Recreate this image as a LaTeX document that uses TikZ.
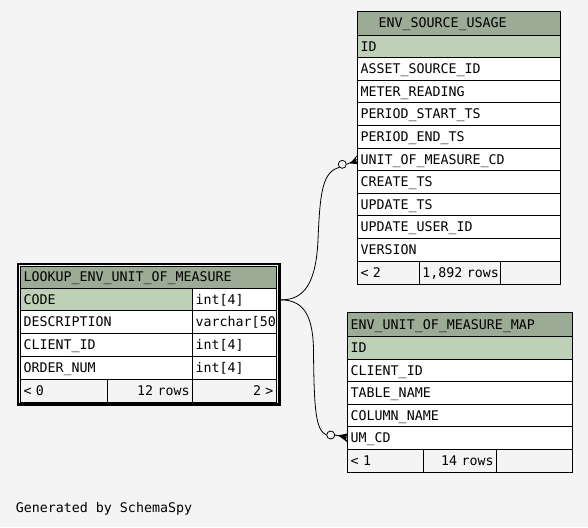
\documentclass[tikz,border=0pt]{standalone}
\usepackage{fontspec}
\newfontfamily\erfont{DejaVu Sans Mono}
\usetikzlibrary{calc}
\definecolor{canvas}{HTML}{F4F4F4}
\definecolor{headbg}{HTML}{9BAB96}
\definecolor{keybg}{HTML}{BED1B8}

% one table cell: name, top-left corner, width, height, extra options, text
\newcommand\tcell[6]{%
  \pgfmathsetmacro\celltw{#3-6}%
  \node[cell, text width=\celltw pt, minimum height=#4pt, #5] (#1) at (#2) {#6};}

\begin{document}
\begin{tikzpicture}[x=1pt,y=-1pt,
  every node/.style={font=\erfont\fontsize{13.3}{14}\selectfont},
  cell/.style={draw=black, line width=0.9pt, fill=white, anchor=north west,
    outer sep=0pt, inner xsep=3pt, inner ysep=0pt, text height=9.5pt,
    text depth=0pt, align=left},
  head/.style={fill=headbg},
  key/.style={fill=keybg},
  foot/.style={fill=canvas},
  fk/.style={line width=0.8pt},
  optional/.style={circle, draw, fill=canvas, line width=0.8pt, inner sep=0pt,
    minimum size=8pt},
]
\fill[canvas] (0,0) rectangle (588,527);
\useasboundingbox (0,0) rectangle (588,527);

% ENV_SOURCE_USAGE
\tcell{sHead}{357.5,11}{203.2}{24}{head}{\hspace*{18pt}ENV\_SOURCE\_USAGE}
\tcell{sId}{357.5,35}{203.2}{22.6}{key}{ID}
\tcell{sAsset}{357.5,57.6}{203.2}{22.6}{}{ASSET\_SOURCE\_ID}
\tcell{sMeter}{357.5,80.2}{203.2}{22.6}{}{METER\_READING}
\tcell{sStart}{357.5,102.8}{203.2}{22.6}{}{PERIOD\_START\_TS}
\tcell{sEnd}{357.5,125.4}{203.2}{22.6}{}{PERIOD\_END\_TS}
\tcell{sUnit}{357.5,148}{203.2}{22.6}{}{UNIT\_OF\_MEASURE\_CD}
\tcell{sCreate}{357.5,170.6}{203.2}{22.6}{}{CREATE\_TS}
\tcell{sUpdate}{357.5,193.2}{203.2}{22.6}{}{UPDATE\_TS}
\tcell{sUser}{357.5,215.8}{203.2}{22.6}{}{UPDATE\_USER\_ID}
\tcell{sVersion}{357.5,238.4}{203.2}{22.6}{}{VERSION}
\tcell{sParents}{357.5,261}{61.8}{23}{foot}{<~2}
\tcell{sRows}{419.3,261}{81}{23}{foot}{\mbox{1,892~rows}}
\tcell{sKids}{500.3,261}{60.4}{23}{foot}{}

% LOOKUP_ENV_UNIT_OF_MEASURE (focus table, heavy frame)
\tcell{lHead}{20.5,266}{256}{22}{head}{LOOKUP\_ENV\_UNIT\_OF\_MEASURE}
\tcell{lCode}{20.5,288}{172.2}{22.8}{key}{CODE}
\tcell{lCodeT}{192.7,288}{83.8}{22.8}{}{int[4]}
\tcell{lDesc}{20.5,310.8}{172.2}{22.8}{}{DESCRIPTION}
\tcell{lDescT}{192.7,310.8}{83.8}{22.8}{}{varchar[50}
\tcell{lClient}{20.5,333.6}{172.2}{22.8}{}{CLIENT\_ID}
\tcell{lClientT}{192.7,333.6}{83.8}{22.8}{}{int[4]}
\tcell{lOrder}{20.5,356.4}{172.2}{22.8}{}{ORDER\_NUM}
\tcell{lOrderT}{192.7,356.4}{83.8}{22.8}{}{int[4]}
\tcell{lParents}{20.5,379.2}{86.8}{23.3}{foot}{<~0}
\tcell{lRows}{107.3,379.2}{85.4}{23.3}{foot, align=right}{12~rows}
\tcell{lKids}{192.7,379.2}{83.8}{23.3}{foot, align=right}{2~>}
\draw[line width=2.5pt] (18,264) rectangle (279.3,404.6);

% ENV_UNIT_OF_MEASURE_MAP
\tcell{mHead}{347.7,312.7}{225}{24}{head}{ENV\_UNIT\_OF\_MEASURE\_MAP}
\tcell{mId}{347.7,336.7}{225}{22.6}{key}{ID}
\tcell{mClient}{347.7,359.3}{225}{22.4}{}{CLIENT\_ID}
\tcell{mTable}{347.7,381.7}{225}{22.6}{}{TABLE\_NAME}
\tcell{mColumn}{347.7,404.3}{225}{22.4}{}{COLUMN\_NAME}
\tcell{mUm}{347.7,426.7}{225}{22.6}{}{UM\_CD}
\tcell{mParents}{347.7,449.3}{75.6}{23.4}{foot}{<~1}
\tcell{mRows}{423.3,449.3}{73.4}{23.4}{foot, align=right}{14~rows}
\tcell{mKids}{496.7,449.3}{76}{23.4}{foot}{}

% relationships: LOOKUP.CODE -> child columns
\coordinate (pk) at ($(lCodeT.east)+(4.5,0.5)$);
\node[optional] (o1) at (342.3,164.3) {};
\node[optional] (o2) at (330.7,435) {};

\draw[fk] (pk) .. controls +(24,0) and (316,282) .. (318,240)
  .. controls (320,190) and (323,172) .. (o1.south west);
\draw[fk] (pk) .. controls +(24,0) and (313,318) .. (313.5,350)
  .. controls (314,412) and (316,430) .. (o2.west);

% crow's feet at the child ends
\draw[fk] (o1.east) -- (sUnit.west);
\fill ($(o1.east)+(3,-0.6)$) -- ($(sUnit.west)+(0,-4.5)$) -- ($(sUnit.west)+(-2,0)$)
  -- ($(sUnit.west)+(0,4.5)$) -- cycle;
\draw[fk] (o2.east) -- (mUm.west);
\fill ($(o2.east)+(3,0.4)$) -- ($(mUm.west)+(0,-4.5)$) -- ($(mUm.west)+(-2,0)$)
  -- ($(mUm.west)+(0,4.5)$) -- cycle;

\node[anchor=base west, inner sep=0pt] (credit) at (15.7,512.7) {Generated by SchemaSpy};
\end{tikzpicture}
\end{document}
